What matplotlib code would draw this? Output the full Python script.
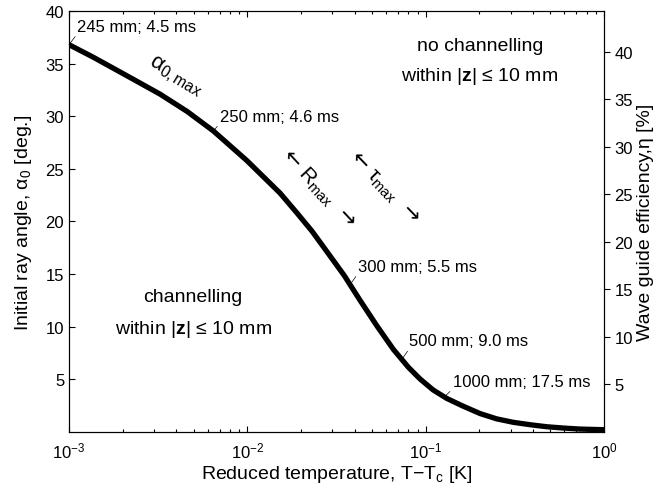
import matplotlib
matplotlib.use('Agg')
import matplotlib.pyplot as plt

plt.rcParams['font.family'] = ['Liberation Sans', 'DejaVu Sans']
plt.rcParams['mathtext.fontset'] = 'custom'
plt.rcParams['mathtext.rm'] = 'Liberation Sans'
plt.rcParams['mathtext.it'] = 'Liberation Sans:italic'
plt.rcParams['mathtext.bf'] = 'Liberation Sans:bold'

# reduced temperature T - Tc [K] and max initial ray angle [deg]
temp = [1.0e-3, 1.37e-3, 2.11e-3, 3.24e-3, 4.6e-3, 6.45e-3, 9.92e-3,
        1.525e-2, 1.9e-2, 2.3e-2, 2.79e-2, 3.5e-2, 4.29e-2, 5.32e-2, 6.59e-2,
        8.0e-2, 9.3e-2, 0.11, 0.131, 0.16, 0.202, 0.25, 0.310, 0.39,
        0.478, 0.6, 0.734, 1.0]
alpha_max = [36.8, 35.6, 33.85, 32.1, 30.45, 28.6, 25.8,
             22.7, 20.8, 19.1, 17.15, 14.85, 12.5, 10.1, 7.85,
             6.15, 5.04, 4.0, 3.2, 2.5, 1.75, 1.25, 0.92, 0.68,
             0.5, 0.37, 0.28, 0.22]

# labelled points on the curve
mark_labels = ['245 mm; 4.5 ms', '250 mm; 4.6 ms', '300 mm; 5.5 ms',
               '500 mm; 9.0 ms', '1000 mm; 17.5 ms']
mark_temp = [1.0e-3, 6.45e-3, 3.77e-2, 7.35e-2, 0.1285]
mark_alpha = [36.8, 28.6, 14.0, 6.9, 3.4]

eta_top = 44.3
yticks = [5, 10, 15, 20, 25, 30, 35, 40]

fig = plt.figure(figsize=(6.68, 4.89), dpi=100)
ax = fig.add_axes([0.1033, 0.1145, 0.8009, 0.861])

ax.plot(temp, alpha_max, color='black', lw=3.8, solid_joinstyle='round')
ax.set_xscale('log')
ax.set_xlim(1e-3, 1)
ax.set_ylim(0, 40)
ax.set_yticks(yticks)
ax.tick_params(which='both', direction='in', top=True, right=True, labelsize=12)
ax.tick_params(which='major', length=4, width=0.8)
ax.tick_params(which='minor', length=2.5, width=0.8)
ax.tick_params(axis='x', pad=6)
for s in ax.spines.values():
    s.set_linewidth(0.8)

ax.set_xlabel(r'Reduced temperature, T$-$T$_\mathrm{c}$ [K]', fontsize=14, labelpad=2)
ax.set_ylabel(r'Initial ray angle, α$_\mathrm{0}$ [deg.]', fontsize=14, labelpad=8)

ax2 = ax.twinx()
ax2.set_ylim(0, eta_top)
ax2.set_yticks(yticks)
ax2.tick_params(direction='out', length=4, width=0.8, labelsize=12)
ax2.set_ylabel('Wave guide efficiency,η [%]', fontsize=14, labelpad=3)
for s in ax2.spines.values():
    s.set_linewidth(0.8)

# leader offsets in points
offsets = [(6, 10), (4.5, 7.5), (5.5, 10), (5.5, 10), (5.5, 7.5)]
for lab, x, y, off in zip(mark_labels, mark_temp, mark_alpha, offsets):
    ax.annotate(lab, xy=(x, y), xytext=off, textcoords='offset points',
                fontsize=12, ha='left', va='baseline',
                arrowprops=dict(arrowstyle='-', lw=0.5, color='black',
                                shrinkA=0, shrinkB=0, relpos=(0, 0)))

ax.text(3.95e-3, 33.8, r'α$_\mathrm{0,max}$', fontsize=16, rotation=-31,
        ha='center', va='center')
ax.text(2.5e-2, 23.2, r'← $\mathrm{R}_\mathrm{max}$  →', fontsize=15,
        family='DejaVu Sans', rotation=-47, ha='center', va='center')
ax.text(5.9e-2, 23.2, r'← $\mathrm{τ}_\mathrm{max}$  →', fontsize=15,
        family='DejaVu Sans', rotation=-46, ha='center', va='center')

ax.text(0.768, 0.917, 'no channelling', transform=ax.transAxes,
        fontsize=14, ha='center', va='center')
ax.text(0.768, 0.846, r'within $|\mathbf{z}|$ ≤ 10 mm', transform=ax.transAxes,
        fontsize=14, ha='center', va='center')
ax.text(0.232, 0.321, 'channelling', transform=ax.transAxes,
        fontsize=14, ha='center', va='center')
ax.text(0.232, 0.247, r'within $|\mathbf{z}|$ ≤ 10 mm', transform=ax.transAxes,
        fontsize=14, ha='center', va='center')

fig.savefig('out.png', dpi=100)
